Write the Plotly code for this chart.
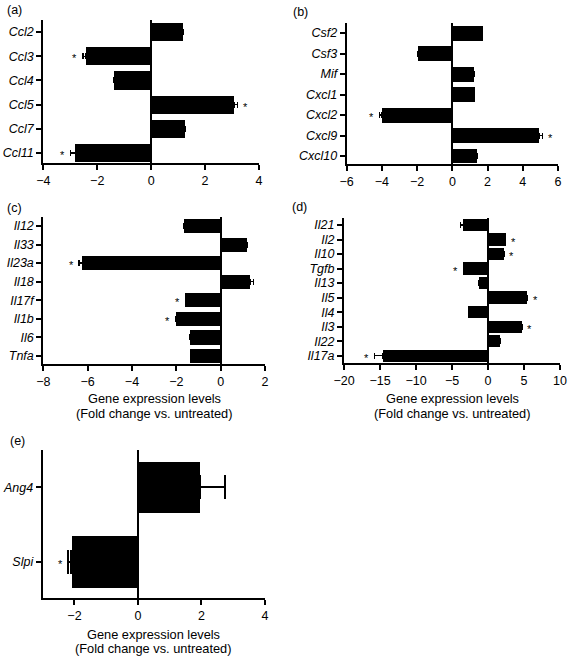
import plotly.graph_objects as go

# ---------------- data ----------------
a_genes = ["Ccl2", "Ccl3", "Ccl4", "Ccl5", "Ccl7", "Ccl11"]
a_vals = [1.2, -2.42, -1.37, 3.07, 1.28, -2.81]
a_errs = [0.0, 0.11, 0.0, 0.13, 0.0, 0.19]
a_sig = [False, True, False, True, False, True]

b_genes = ["Csf2", "Csf3", "Mif", "Cxcl1", "Cxcl2", "Cxcl9", "Cxcl10"]
b_vals = [1.72, -1.94, 1.22, 1.26, -4.0, 4.92, 1.39]
b_errs = [0.0, 0.0, 0.0, 0.0, 0.15, 0.21, 0.0]
b_sig = [False, False, False, False, True, True, False]

c_genes = ["Il12", "Il33", "Il23a", "Il18", "Il17f", "Il1b", "Il6", "Tnfa"]
c_vals = [-1.65, 1.2, -6.23, 1.35, -1.58, -2.02, -1.38, -1.35]
c_errs = [0.0, 0.0, 0.15, 0.12, 0.0, 0.0, 0.0, 0.0]
c_sig = [False, False, True, False, True, True, False, False]

d_genes = ["Il21", "Il2", "Il10", "Tgfb", "Il13", "Il5", "Il4", "Il3", "Il22", "Il17a"]
d_vals = [-3.43, 2.45, 2.22, -3.43, -1.25, 5.46, -2.73, 4.72, 1.67, -14.58]
d_errs = [0.37, 0.0, 0.0, 0.0, 0.0, 0.0, 0.0, 0.0, 0.0, 1.16]
d_sig = [False, True, True, True, False, True, False, True, False, True]

e_genes = ["Ang4", "Slpi"]
e_vals = [1.95, -2.1]
e_errs = [0.79, 0.09]
e_sig = [False, True]

x_title_1 = "Gene expression levels"
x_title_2 = "(Fold change vs. untreated)"

# ---------------- layout geometry (pixels) ----------------
W, H = 568, 657
FONT = "Liberation Sans, Arial, Helvetica, sans-serif"


def px_x(p):
    return p / W


def px_y(p):
    return 1 - p / H


panels = [
    dict(g=a_genes, v=a_vals, e=a_errs, s=a_sig, xd=(43.3, 259), yd=(20, 163), xr=(-4, 4),
         tv=[-4, -2, 0, 2, 4], yr=(5.41, -0.5), bw=0.75, lab="(a)", lp=(5, 10), cap=3, et=1.5, title=False),
    dict(g=b_genes, v=b_vals, e=b_errs, s=b_sig, xd=(346.7, 558), yd=(23, 164), xr=(-6, 6),
         tv=[-6, -4, -2, 0, 2, 4, 6], yr=(6.39, -0.49), bw=0.73, lab="(b)", lp=(291, 12), cap=3, et=1.5,
         title=False),
    dict(g=c_genes, v=c_vals, e=c_errs, s=c_sig, xd=(43.3, 265), yd=(216.7, 364.3), xr=(-8, 2),
         tv=[-8, -6, -4, -2, 0, 2], yr=(7.46, -0.5), bw=0.76, lab="(c)", lp=(5, 208), cap=3, et=1.5,
         title=True, tpos=(398.3, 413.3)),
    dict(g=d_genes, v=d_vals, e=d_errs, s=d_sig, xd=(344, 560), yd=(218, 363.3), xr=(-20, 10),
         tv=[-20, -15, -10, -5, 0, 5, 10], yr=(9.52, -0.48), bw=0.85, lab="(d)", lp=(290, 207), cap=3, et=1.5,
         title=True, tpos=(398.3, 413.3)),
    dict(g=e_genes, v=e_vals, e=e_errs, s=e_sig, xd=(42.7, 265), yd=(450, 597.7), xr=(-3, 4),
         tv=[-2, 0, 2, 4], yr=(1.48, -0.5), bw=0.69, lab="(e)", lp=(8, 441), cap=12, et=2,
         title=True, tpos=(634.5, 648.5)),
]

fig = go.Figure()
annotations = []
layout = {}

for i, p in enumerate(panels, start=1):
    xa = "x" if i == 1 else f"x{i}"
    ya = "y" if i == 1 else f"y{i}"
    xkey = "xaxis" if i == 1 else f"xaxis{i}"
    ykey = "yaxis" if i == 1 else f"yaxis{i}"

    plus = [e if v >= 0 else 0 for v, e in zip(p["v"], p["e"])]
    minus = [e if v < 0 else 0 for v, e in zip(p["v"], p["e"])]

    fig.add_trace(go.Bar(
        x=p["v"], y=p["g"], orientation="h", xaxis=xa, yaxis=ya,
        marker=dict(color="black", line=dict(width=0)), width=p["bw"],
        error_x=dict(type="data", symmetric=False, array=plus, arrayminus=minus,
                     color="black", thickness=p["et"], width=p["cap"]),
        showlegend=False, hoverinfo="skip",
    ))

    span = p["xr"][1] - p["xr"][0]
    off = 0.037 * span
    for g, v, e, s in zip(p["g"], p["v"], p["e"], p["s"]):
        if s:
            xs = v + e + off if v >= 0 else v - e - off
            annotations.append(dict(
                x=xs, y=g, xref=xa, yref=ya, text="*", showarrow=False,
                font=dict(family=FONT, size=11, color="black"), yshift=-2,
            ))

    layout[xkey] = dict(
        domain=[px_x(p["xd"][0]), px_x(p["xd"][1])], anchor=ya, range=list(p["xr"]),
        tickmode="array", tickvals=p["tv"], showline=True, linecolor="black", linewidth=2,
        ticks="outside", ticklen=5, tickwidth=1.5, tickcolor="black",
        zeroline=True, zerolinecolor="black", zerolinewidth=1.5, showgrid=False,
        tickfont=dict(family=FONT, size=12.5, color="black"), fixedrange=True,
        automargin=False, ticklabeloverflow="allow",
    )
    layout[ykey] = dict(
        domain=[px_y(p["yd"][1]), px_y(p["yd"][0])], anchor=xa, type="category",
        categoryorder="array", categoryarray=p["g"], range=list(p["yr"]),
        tickmode="array", tickvals=p["g"], ticktext=p["g"],
        showline=True, linecolor="black", linewidth=2,
        ticks="outside", ticklen=5, tickwidth=1.5, tickcolor="black", showgrid=False,
        tickfont=dict(family=FONT, size=12.5, color="black", style="italic"), fixedrange=True,
        automargin=False,
    )

    annotations.append(dict(
        x=px_x(p["lp"][0]), y=px_y(p["lp"][1]), xref="paper", yref="paper",
        text=p["lab"], showarrow=False, xanchor="left", yanchor="middle",
        font=dict(family=FONT, size=12.5, color="black"),
    ))
    if p["title"]:
        cx = px_x((p["xd"][0] + p["xd"][1]) / 2)
        for txt, yy in zip([x_title_1, x_title_2], p["tpos"]):
            annotations.append(dict(
                x=cx, y=px_y(yy), xref="paper", yref="paper", text=txt, showarrow=False,
                xanchor="center", yanchor="middle",
                font=dict(family=FONT, size=12.8, color="black"),
            ))

fig.update_layout(
    width=W, height=H, margin=dict(l=0, r=0, t=0, b=0, autoexpand=False),
    paper_bgcolor="white", plot_bgcolor="white", template="none",
    annotations=annotations, bargap=0, **layout,
)

fig.write_html(
    "out.html",
    config={"displayModeBar": False},
    post_script="document.body.style.margin='0px';document.body.style.overflow='hidden';",
)
